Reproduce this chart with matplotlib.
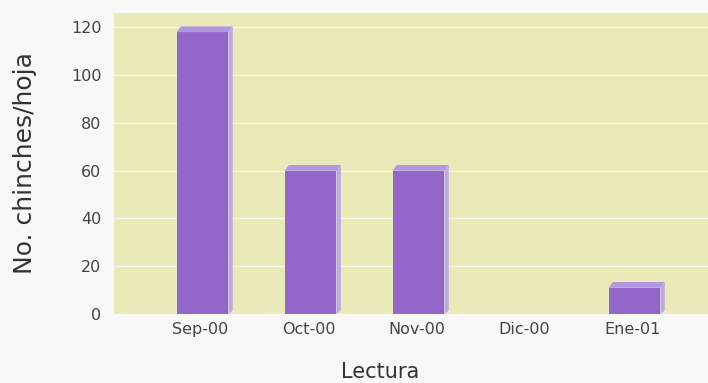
import matplotlib
matplotlib.use("Agg")
import matplotlib.pyplot as plt
from matplotlib.patches import Polygon

# Readings per month
categories = ["Sep-00", "Oct-00", "Nov-00", "Dic-00", "Ene-01"]
chinches = [118, 60, 60, 0, 11]
yticks = [0, 20, 40, 60, 80, 100, 120]

plt.rcParams["font.family"] = ["DejaVu Sans"]

fig = plt.figure(figsize=(7.08, 3.83), dpi=100)
ax = fig.add_axes([0.161, 0.180, 0.839, 0.786])
ax.set_facecolor("#eaeab9")

front = "#9366c9"
top = "#b497e0"
side = "#bfa8e6"
width = 0.48
dx, dy = 0.04, 2.4

x = list(range(len(categories)))
ax.bar([xi + 0.02 for xi in x], chinches, width=width, color=front, zorder=3, linewidth=0)
for xi, v in zip(x, chinches):
    if v <= 0:
        continue
    x0, x1 = xi + 0.02 - width / 2, xi + 0.02 + width / 2
    ax.add_patch(Polygon([(x0, v), (x0 + dx, v + dy), (x1 + dx, v + dy), (x1, v)],
                         closed=True, facecolor=top, edgecolor="none", zorder=4))
    ax.add_patch(Polygon([(x1, 0), (x1, v), (x1 + dx, v + dy), (x1 + dx, 1.5)],
                         closed=True, facecolor=side, edgecolor="none", zorder=4))

ax.set_xlim(-0.8, 4.7)
ax.set_ylim(0, 126)
ax.set_yticks(yticks)
ax.set_xticks(x)
ax.set_xticklabels(categories)
ax.yaxis.grid(True, color="#f6f6ea", linewidth=0.9, zorder=1)
ax.set_axisbelow(True)
ax.tick_params(axis="both", length=0, labelsize=11.5, colors="#444444")
ax.tick_params(axis="y", pad=9)
ax.tick_params(axis="x", pad=6)
for s in ax.spines.values():
    s.set_visible(False)

ax.set_ylabel("No. chinches/hoja", fontsize=18, color="#333333")
ax.yaxis.set_label_coords(-0.13, 0.5)
ax.set_xlabel("Lectura", fontsize=15, color="#333333")
ax.xaxis.set_label_coords(0.448, -0.16)

fig.savefig("out.png", dpi=100, facecolor="#f8f8f8")
